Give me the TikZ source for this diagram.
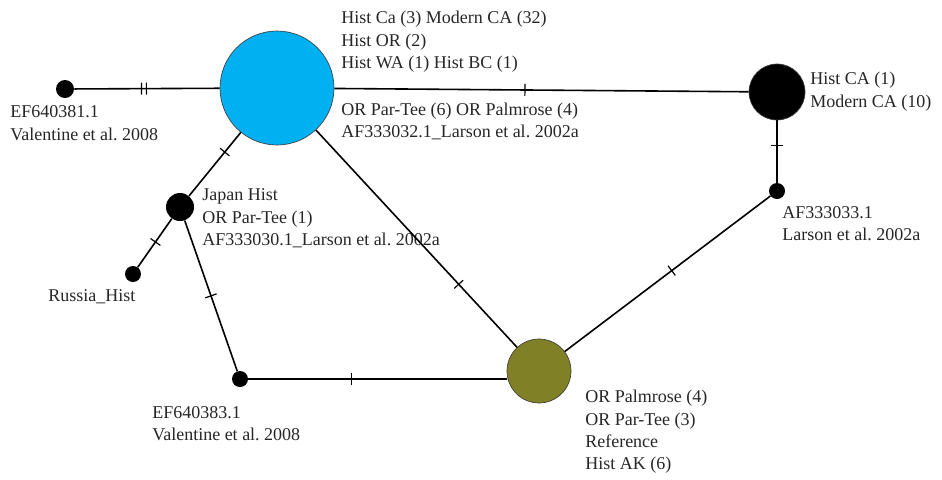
\documentclass[tikz,border=0pt]{standalone}
\usepackage{fontspec}
\setmainfont{Liberation Serif}
\usepackage{xcolor}
\usetikzlibrary{decorations.markings}
\definecolor{hapblue}{RGB}{0,176,240}
\definecolor{hapolive}{RGB}{128,128,38}
\tikzset{
  hap/.style={circle, draw=black!75, line width=0.5pt, inner sep=0pt},
  dot/.style={circle, fill=black, inner sep=0pt, minimum size=12pt},
  lbl/.style={anchor=west, align=left, inner sep=0pt, text=black!85,
    font=\fontsize{13.5}{16.8}\selectfont\frenchspacing},
  link/.style={line width=1.2pt},
  mutation/.style={postaction={decorate, decoration={markings,
    mark=at position #1 with {\draw[line width=0.9pt] (0,-6) -- (0,6);}}}},
}

\begin{document}
\begin{tikzpicture}[x=0.75pt, y=-0.75pt]
    \useasboundingbox (0,0) rectangle (942,479);
    % haplotypes
    \node[hap, fill=hapblue, minimum size=85.5pt] (blue) at (277,88) {};
    \node[hap, fill=black, minimum size=42pt] (black) at (777,92) {};
    \node[hap, fill=hapolive, minimum size=48pt] (olive) at (539,371) {};
    \node[dot, minimum size=21pt] (japan) at (180,207) {};
    \node[dot, minimum size=13.5pt] (ef381) at (65,89) {};
    \node[dot] (russia) at (133,274) {};
    \node[dot] (ef383) at (240,379) {};
    \node[dot] (af033) at (777,191) {};
    % labels
    \node[lbl] (blueA) at (341,42) {Hist Ca (3) Modern CA (32)\\Hist OR (2)\\Hist WA (1) Hist BC (1)};
    \node[lbl] (blueB) at (341,121.5) {OR Par-Tee (6) OR Palmrose (4)\\AF333032.1\_Larson et al. 2002a};
    \node[lbl] (blackL) at (810,91.5) {Hist CA (1)\\Modern CA (10)};
    \node[lbl] (af033L) at (782,223.5) {AF333033.1\\Larson et al. 2002a};
    \node[lbl] (japanL) at (202,218.5) {Japan Hist\\OR Par-Tee (1)\\AF333030.1\_Larson et al. 2002a};
    \node[lbl] (russiaL) at (48,297) {Russia\_Hist};
    \node[lbl] (ef381L) at (10,123) {EF640381.1\\Valentine et al. 2008};
    \node[lbl] (ef383L) at (152,423.5) {EF640383.1\\Valentine et al. 2008};
    \node[lbl] (oliveL) at (585,432) {OR Palmrose (4)\\OR Par-Tee (3)\\Reference\\Hist AK (6)};
    % links
    \draw[link, mutation=0.462, mutation=0.496] (ef381) -- (blue);
    \draw[link, mutation=0.46] (blue) -- (black);
    \draw[link, mutation=0.4] (black) -- (af033);
    \draw[link, mutation=0.48] (af033) -- (olive);
    \draw[link, mutation=0.31] (blue) -- (japan);
    \draw[link, mutation=0.71] (blue) -- (olive);
    \draw[link, mutation=0.48] (japan) -- (russia);
    \draw[link, mutation=0.5] (japan) -- (ef383);
    \draw[link, mutation=0.4] (ef383) -- (ef383 -| olive.west);
  \end{tikzpicture}
\end{document}
